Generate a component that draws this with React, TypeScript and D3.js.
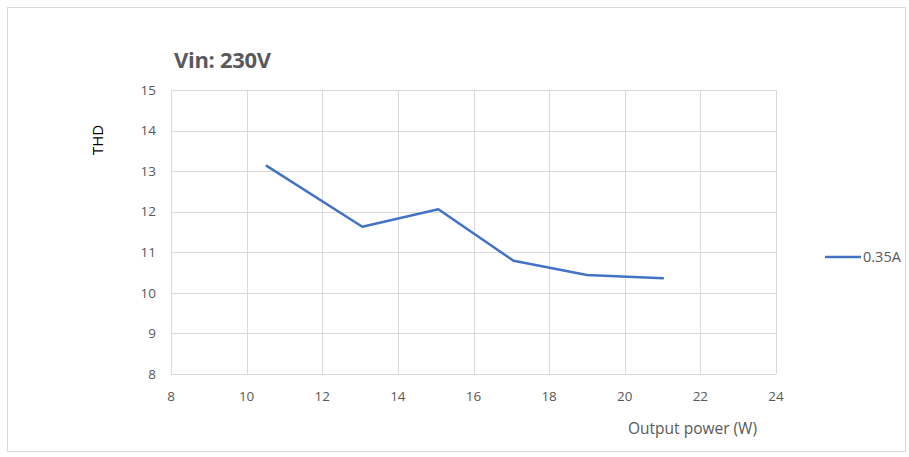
import React from "react";
import * as d3 from "d3";

const xValues = [10.53, 13.06, 15.07, 17.06, 19.0, 21.01];
const thdValues = [13.13, 11.63, 12.06, 10.79, 10.44, 10.36];
const xTicks = [8, 10, 12, 14, 16, 18, 20, 22, 24];
const yTicks = [8, 9, 10, 11, 12, 13, 14, 15];
const seriesName = "0.35A";
const title = "Vin: 230V";
const xLabel = "Output power (W)";
const yLabel = "THD";

export default function App() {
  const W = 909, H = 457;
  const x = d3.scaleLinear().domain([8, 24]).range([171, 776]);
  const y = d3.scaleLinear().domain([8, 15]).range([374, 90]);
  const line = d3.line<number>().x((_, i) => x(xValues[i])).y((d) => y(d));
  const font = "'Open Sans', 'Noto Sans', sans-serif";
  const grey = "#595959";
  return (
    <svg width={W} height={H} style={{ position: "absolute", left: 0, top: 0 }} fontFamily={font}>
      <rect x={0} y={0} width={W} height={H} fill="#fff" />
      <rect x={7.5} y={7.5} width={898} height={444} fill="#fff" stroke="#d9d9d9" strokeWidth={1} />
      <text x={174} y={68} fontSize={22} fontWeight="bold" fill={grey} style={{ letterSpacing: "-0.3px" }}>{title}</text>
      {yTicks.map((t) => (
        <line key={"gy" + t} x1={171} x2={776} y1={Math.round(y(t)) + 0.5} y2={Math.round(y(t)) + 0.5} stroke="#d9d9d9" strokeWidth={1} />
      ))}
      {xTicks.map((t) => (
        <line key={"gx" + t} x1={Math.round(x(t)) + 0.5} x2={Math.round(x(t)) + 0.5} y1={90} y2={374} stroke="#d9d9d9" strokeWidth={1} />
      ))}
      {yTicks.map((t) => (
        <text key={"ty" + t} x={156} y={y(t)} dy="0.35em" textAnchor="end" fontSize={13.5} fill={grey}>{t}</text>
      ))}
      {xTicks.map((t) => (
        <text key={"tx" + t} x={x(t)} y={396} dy="0.35em" textAnchor="middle" fontSize={13.5} fill={grey}>{t}</text>
      ))}
      <text x={757} y={429} dy="0.35em" textAnchor="end" fontSize={15.5} fill={grey}>{xLabel}</text>
      <text transform={`translate(97.5,140) rotate(-90)`} textAnchor="middle" dy="0.35em" fontSize={15} fill="#000">{yLabel}</text>
      <path d={line(thdValues) || ""} fill="none" stroke="#4472C4" strokeWidth={2.5} strokeLinejoin="round" strokeLinecap="round" />
      <line x1={825} x2={861} y1={257} y2={257} stroke="#4472C4" strokeWidth={2.5} />
      <text x={863} y={257} dy="0.35em" fontSize={14.5} fill={grey}>{seriesName}</text>
    </svg>
  );
}
